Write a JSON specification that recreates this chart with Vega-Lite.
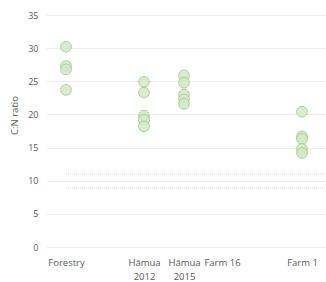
{
  "$schema": "https://vega.github.io/schema/vega-lite/v6.json",
  "width": 280,
  "height": 232,
  "autosize": "none",
  "padding": {"left": 46, "top": 15, "right": 0, "bottom": 35},
  "background": "white",
  "config": {
    "view": {"stroke": null},
    "font": "Open Sans"
  },
  "datasets": {
    "points": [
      {"site": "Forestry", "pos": 1, "cn": 30.2},
      {"site": "Forestry", "pos": 1, "cn": 27.3},
      {"site": "Forestry", "pos": 1, "cn": 26.8},
      {"site": "Forestry", "pos": 1, "cn": 23.7},
      {"site": "Hāmua 2012", "pos": 4.9, "cn": 24.9},
      {"site": "Hāmua 2012", "pos": 4.9, "cn": 23.3},
      {"site": "Hāmua 2012", "pos": 4.9, "cn": 19.8},
      {"site": "Hāmua 2012", "pos": 4.9, "cn": 19.2},
      {"site": "Hāmua 2012", "pos": 4.9, "cn": 18.2},
      {"site": "Hāmua 2015", "pos": 6.9, "cn": 25.9},
      {"site": "Hāmua 2015", "pos": 6.9, "cn": 24.8},
      {"site": "Hāmua 2015", "pos": 6.9, "cn": 23.0},
      {"site": "Hāmua 2015", "pos": 6.9, "cn": 22.3},
      {"site": "Hāmua 2015", "pos": 6.9, "cn": 21.6},
      {"site": "Farm 1", "pos": 12.8, "cn": 20.4},
      {"site": "Farm 1", "pos": 12.8, "cn": 16.7},
      {"site": "Farm 1", "pos": 12.8, "cn": 16.3},
      {"site": "Farm 1", "pos": 12.8, "cn": 14.8},
      {"site": "Farm 1", "pos": 12.8, "cn": 14.2}
    ],
    "lines": [
      {"pos": 1, "pos2": 14, "cn": 11},
      {"pos": 1, "pos2": 14, "cn": 8.9}
    ]
  },
  "encoding": {
    "x": {
      "field": "pos", "type": "quantitative",
      "scale": {"domain": [0, 14]},
      "axis": {
        "values": [1, 4.9, 6.9, 8.8, 12.8],
        "labelExpr": "datum.value == 1 ? 'Forestry' : datum.value == 4.9 ? ['Hāmua', '2012'] : datum.value == 6.9 ? ['Hāmua', '2015'] : datum.value == 8.8 ? 'Farm 16' : 'Farm 1'",
        "title": null,
        "grid": false,
        "domain": false,
        "ticks": false,
        "labelColor": "#595959",
        "labelFontSize": 9.5,
        "labelPadding": 10,
        "labelLineHeight": 14,
        "labelFlush": false,
        "labelOverlap": false
      }
    },
    "y": {
      "field": "cn", "type": "quantitative",
      "scale": {"domain": [0, 35]},
      "axis": {
        "values": [0, 5, 10, 15, 20, 25, 30, 35],
        "title": "C:N ratio",
        "titleColor": "#595959",
        "titleFontSize": 9.5,
        "titleFontWeight": "normal",
        "titleY": 100,
        "titlePadding": 8,
        "grid": true,
        "gridColor": "#ececec",
        "domain": false,
        "ticks": false,
        "labelColor": "#595959",
        "labelFontSize": 9,
        "labelPadding": 8,
        "labelOverlap": false
      }
    }
  },
  "layer": [
    {
      "data": {"name": "points"},
      "mark": {"type": "point", "shape": "circle", "filled": true, "size": 115, "fill": "#d5e8c9", "fillOpacity": 0.85, "stroke": "#a3cc8f", "strokeWidth": 1, "strokeOpacity": 0.9}
    },
    {
      "data": {"name": "lines"},
      "mark": {"type": "rule", "color": "#d6d6d6", "strokeWidth": 1, "strokeDash": [1, 1]},
      "encoding": {
        "x2": {"field": "pos2"}
      }
    }
  ]
}
